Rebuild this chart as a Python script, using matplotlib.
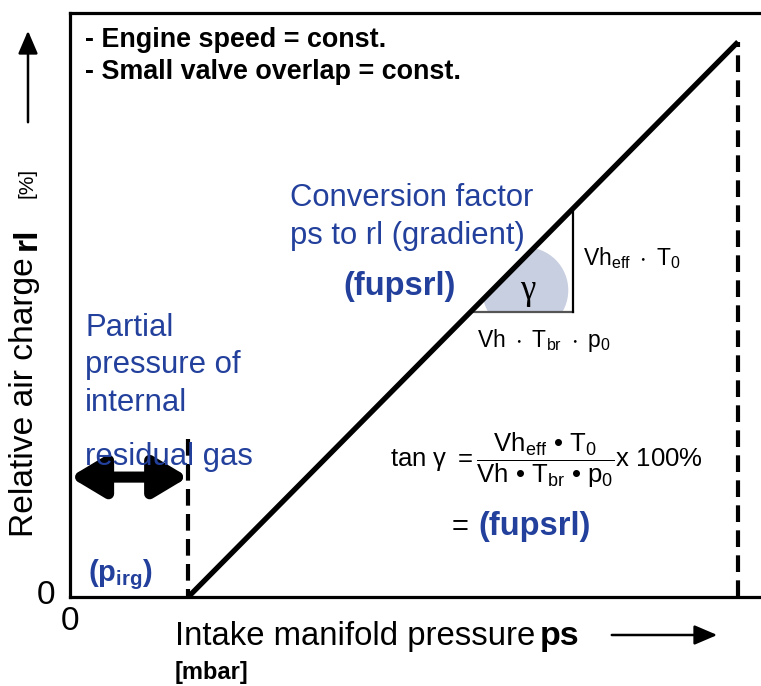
import numpy as np
import matplotlib.pyplot as plt
from matplotlib.patches import Ellipse, Polygon, FancyArrowPatch

plt.rcParams['font.family'] = ['Liberation Sans', 'DejaVu Sans']
plt.rcParams['mathtext.fontset'] = 'custom'
plt.rcParams['mathtext.rm'] = 'Liberation Sans'
plt.rcParams['mathtext.it'] = 'Liberation Sans:italic'
plt.rcParams['mathtext.bf'] = 'Liberation Sans:bold'

# diagram values (ps in mbar-like units, rl in %)
p_irg = 177          # partial pressure of internal residual gas
p_max = 1000         # end of the characteristic
rl_max = 100
rl_arrow = 21.6      # height of the p_irg double arrow
rl_irg_dash = 28.5   # top of the dashed line at p_irg
tri_rl = 51.3        # lower edge of the gradient triangle
tri_p = 753          # right edge of the gradient triangle
x_lim = (0, 1034.4)
y_lim = (0, 105.2)

W, H = 761, 686
BLUE = '#22409c'


def fx(x):
    return x / W


def fy(y):
    return 1 - y / H


fig = plt.figure(figsize=(W / 100, H / 100), dpi=100)
ax = fig.add_axes([fx(70), fy(597), 1 - fx(70), fy(13) - fy(597)])
ax.set_xlim(*x_lim)
ax.set_ylim(*y_lim)
ax.set_xticks([])
ax.set_yticks([])
for s in ['left', 'top', 'bottom']:
    ax.spines[s].set_linewidth(2.3)
ax.spines['right'].set_visible(False)

# characteristic line
slope = rl_max / (p_max - p_irg)
ax.plot([p_irg, p_max], [0, rl_max], color='k', lw=3.8, solid_capstyle='butt', zorder=4)
ax.plot([p_irg, p_irg], [rl_irg_dash, 0], color='k', lw=3, dashes=(4, 2))
ax.plot([p_max, p_max], [0, rl_max], color='k', lw=3, dashes=(4, 2))

# gradient triangle
p_left = p_irg + tri_rl / slope
rl_top = (tri_p - p_irg) * slope
tri = Polygon([[p_left, tri_rl], [tri_p, tri_rl], [tri_p, rl_top]], closed=True,
              facecolor='none', edgecolor='none')
ax.add_patch(tri)
px_x = ax.bbox.width / (x_lim[1] - x_lim[0])
px_y = ax.bbox.height / (y_lim[1] - y_lim[0])
r = 43
wedge = Ellipse((p_left + 55 / px_x, tri_rl + 22 / px_y), 2 * r / px_x, 2 * r / px_y,
                facecolor='#c8cfe0', edgecolor='none', zorder=1)
ax.add_patch(wedge)
wedge.set_clip_path(tri)
ax.plot([p_left, tri_p], [tri_rl, tri_rl], color='#555555', lw=1.6, zorder=2)
ax.plot([tri_p, tri_p], [tri_rl, rl_top], color='k', lw=1.6, zorder=2)
ax.text(p_left + 57 / px_x, tri_rl + 22 / px_y, 'γ', fontsize=25, family='Liberation Serif',
        ha='center', va='center', zorder=5)

# double arrow for p_irg
ax.annotate('', xy=(0, rl_arrow), xytext=(p_irg, rl_arrow),
            arrowprops=dict(arrowstyle='<|-|>,head_length=1.0,head_width=0.6',
                            mutation_scale=20, lw=8, color='k',
                            shrinkA=0, shrinkB=0), zorder=3)

# texts inside the box
fig.text(fx(85), fy(40), '- Engine speed = const.', fontsize=19.4, fontweight='bold', va='center')
fig.text(fx(85), fy(72), '- Small valve overlap = const.', fontsize=19.4, fontweight='bold', va='center')
fig.text(fx(290), fy(198), 'Conversion factor', fontsize=22.3, color=BLUE, va='center')
fig.text(fx(290), fy(236), 'ps to rl (gradient)', fontsize=22.3, color=BLUE, va='center')
fig.text(fx(343), fy(287), '(fupsrl)', fontsize=23.5, color=BLUE, fontweight='bold', va='center')
fig.text(fx(583), fy(258), r'$\mathregular{Vh_{eff}\ \cdot\ T_0}$', fontsize=16.5, va='center')
fig.text(fx(477), fy(340), r'$\mathregular{Vh\ \cdot\ T_{br}\ \cdot\ p_0}$', fontsize=16.5, va='center')
rows = ['Partial', 'pressure of', 'internal', 'residual gas']
rows_y = [328, 365, 403, 457]
for line, yy in zip(rows, rows_y):
    fig.text(fx(85), fy(yy), line, fontsize=22.4, color=BLUE, va='center', zorder=1)
fig.text(fx(88), fy(575), r'$\mathbf{(p_{irg})}$', fontsize=21, color=BLUE, va='center')
fig.text(fx(390), fy(460), r'$\mathregular{tan\ \gamma\ =\dfrac{Vh_{eff}\ •\ T_0}{Vh\ •\ T_{br}\ •\ p_0}x\ 100\%}$',
         fontsize=18.5, va='center')
fig.text(fx(452), fy(527), '=', fontsize=21, va='center')
fig.text(fx(478), fy(527), '(fupsrl)', fontsize=23.5, color=BLUE, fontweight='bold', va='center')

# axis texts
fig.text(fx(46), fy(596), '0', fontsize=24, ha='center', va='center')
fig.text(fx(70), fy(622), '0', fontsize=24, ha='center', va='center')
fig.text(fx(175), fy(636), 'Intake manifold pressure', fontsize=23.7, va='center')
fig.text(fx(540), fy(636), 'ps', fontsize=24.5, fontweight='bold', va='center')
fig.text(fx(175), fy(672), '[mbar]', fontsize=17, fontweight='bold', va='center')
fig.text(fx(25), fy(537), 'Relative air charge', fontsize=24.2, rotation=90,
         ha='center', va='bottom')
fig.text(fx(27), fy(250), 'rl', fontsize=24.2, fontweight='bold', rotation=90,
         ha='center', va='bottom')
fig.text(fx(27), fy(198), '[%]', fontsize=15, rotation=90, ha='center', va='bottom')
for a, b in [((28, 125), (28, 28)), ((609, 635), (720, 635))]:
    fig.patches.append(FancyArrowPatch((fx(a[0]), fy(a[1])), (fx(b[0]), fy(b[1])),
                                       transform=fig.transFigure,
                                       arrowstyle='-|>,head_length=0.7,head_width=0.3',
                                       mutation_scale=20, lw=1.8, color='k'))

fig.savefig('out.png', dpi=100)
